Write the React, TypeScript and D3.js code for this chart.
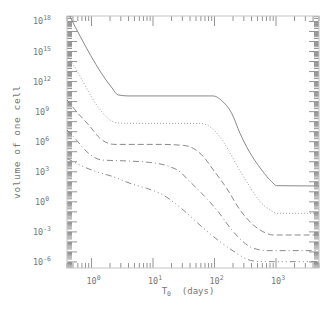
import * as d3 from "d3";
import { useEffect, useRef } from "react";

// T0 in days, volume of one cell
const tSolid = [0.44, 2.16, 2.7, 3.93, 95, 131, 190, 260, 355, 586, 853, 1030, 5000];
const vSolid = [3.5e18, 2.3e11, 4.7e10, 3.7e10, 3.7e10, 1.26e10, 6.9e8, 6.9e6, 1.5e5, 1.5e3, 100, 41, 38];

const tDotted = [0.4, 0.51, 1.32, 2.0, 2.57, 3.74, 58, 84.5, 115, 168, 260, 378, 550, 800, 1030, 5000];
const vDotted = [4.6e14, 4.6e13, 2.3e9, 1.5e8, 7.9e7, 6.9e7, 6.6e7, 3.2e7, 4.7e6, 1.5e5, 1.2e3, 32, 1.05, 0.155, 0.072, 0.072];

const tDashed = [0.4, 0.54, 0.95, 1.37, 1.88, 2.41, 13, 31, 45, 66, 96, 158, 260, 428, 706, 895, 5000];
const vDashed = [1.5e10, 1.5e9, 3.2e7, 2.2e6, 6.9e5, 5.4e5, 5.4e5, 4.3e5, 2.2e5, 3.2e4, 1.5e3, 22, 0.155, 4.9e-3, 7.2e-4, 4.9e-4, 4.9e-4];

const tDashDot = [0.4, 0.54, 0.785, 1.07, 1.47, 3.74, 8.9, 18.9, 27.5, 37.5, 62, 109, 202, 378, 550, 706, 5000];
const vDashDot = [1.5e7, 2.2e6, 1.5e5, 3.2e4, 1.5e4, 1.2e4, 8.5e3, 3.2e3, 1.0e3, 150, 7.1, 0.155, 1.05e-3, 3.3e-5, 1.6e-5, 1.35e-5, 1.35e-5];

const tDash3Dot = [0.4, 0.51, 0.74, 1.22, 2.26, 4.23, 7.9, 13, 31, 62, 123, 230, 334, 428, 615, 5000];
const vDash3Dot = [2.1e4, 1.0e4, 3.2e3, 1.0e3, 320, 71, 22, 7.1, 0.155, 3.3e-3, 1.05e-4, 7.4e-6, 1.9e-6, 1.26e-6, 1.07e-6, 1.07e-6];

const xDomain = [0.4, 5000];
const yDomain = [2.5e-7, 3.5e18];
const xLabelExp = [0, 1, 2, 3];
const yLabelExp = [18, 15, 12, 9, 6, 3, 0, -3, -6];

const series = [
  { t: tSolid, v: vSolid, dash: null, color: "#8a8a8a" },
  { t: tDotted, v: vDotted, dash: "1,2", color: "#a0a0a0" },
  { t: tDashed, v: vDashed, dash: "6,3", color: "#8a8a8a" },
  { t: tDashDot, v: vDashDot, dash: "6,3,1,3", color: "#8a8a8a" },
  { t: tDash3Dot, v: vDash3Dot, dash: "6,3,1,3,1,3,1,3", color: "#8a8a8a" },
];

const font = "'DejaVu Sans Mono', monospace";

export default function App() {
  const svgRef = useRef<SVGSVGElement>(null);

  useEffect(() => {
    const svg = d3.select(svgRef.current);
    svg.selectAll("*").remove();

    const left = 67, right = 319, top = 16, bottom = 268;
    const x = d3.scaleLog().domain(xDomain).range([left, right]);
    const y = d3.scaleLog().domain(yDomain).range([bottom, top]);

    svg.append("defs").append("clipPath").attr("id", "plotArea")
      .append("rect").attr("x", left).attr("y", top)
      .attr("width", right - left).attr("height", bottom - top);

    // tick values: decades (major) and 2..9 (minor)
    const ticksFor = (dom: number[]) => {
      const major: number[] = [], minor: number[] = [];
      const lo = Math.floor(Math.log10(dom[0])), hi = Math.ceil(Math.log10(dom[1]));
      for (let e = lo; e <= hi; e++) {
        const base = Math.pow(10, e);
        if (base >= dom[0] && base <= dom[1]) major.push(base);
        for (let k = 2; k <= 9; k++) {
          const v = k * base;
          if (v >= dom[0] && v <= dom[1]) minor.push(v);
        }
      }
      return { major, minor };
    };
    const xt = ticksFor(xDomain);
    const yt = ticksFor(yDomain);

    const tickG = svg.append("g").attr("stroke", "#949494").attr("stroke-width", 1);
    const drawY = (vals: number[], len: number) => {
      vals.forEach(v => {
        tickG.append("line").attr("x1", left).attr("x2", left + len).attr("y1", y(v)).attr("y2", y(v));
        tickG.append("line").attr("x1", right - len).attr("x2", right).attr("y1", y(v)).attr("y2", y(v));
      });
    };
    const drawX = (vals: number[], len: number) => {
      vals.forEach(v => {
        tickG.append("line").attr("y1", bottom).attr("y2", bottom - len).attr("x1", x(v)).attr("x2", x(v));
        tickG.append("line").attr("y1", top).attr("y2", top + len).attr("x1", x(v)).attr("x2", x(v));
      });
    };
    drawY(yt.major, 10);
    drawY(yt.minor, 5);
    drawX(xt.major, 10);
    drawX(xt.minor, 5);

    // frame
    svg.append("rect").attr("x", left).attr("y", top)
      .attr("width", right - left).attr("height", bottom - top)
      .attr("fill", "none").attr("stroke", "#c4c4c4").attr("stroke-width", 1);

    // curves
    const line = d3.line<[number, number]>()
      .x(d => x(d[0])).y(d => y(d[1]))
      .curve(d3.curveMonotoneX);
    const curves = svg.append("g").attr("clip-path", "url(#plotArea)");
    series.forEach(s => {
      const pts = s.t.map((t, i) => [t, s.v[i]] as [number, number]);
      curves.append("path")
        .attr("d", line(pts))
        .attr("fill", "none")
        .attr("stroke", s.color)
        .attr("stroke-width", 1)
        .attr("stroke-dasharray", s.dash);
    });

    // tick labels
    const labels = svg.append("g").attr("font-family", font).attr("fill", "#777");
    yLabelExp.forEach(e => {
      const t = labels.append("text").attr("x", 42).attr("y", y(Math.pow(10, e)) + 3)
        .attr("text-anchor", "middle").attr("font-size", 8.5);
      t.append("tspan").text("10");
      t.append("tspan").attr("dy", -4).attr("font-size", 6.5).text(String(e));
    });
    xLabelExp.forEach(e => {
      const t = labels.append("text").attr("x", x(Math.pow(10, e)) + 2).attr("y", 284)
        .attr("text-anchor", "middle").attr("font-size", 8.5);
      t.append("tspan").text("10");
      t.append("tspan").attr("dy", -4).attr("font-size", 6.5).text(String(e));
    });

    // axis titles
    const xTitle = labels.append("text").attr("x", 188).attr("y", 294)
      .attr("text-anchor", "middle").attr("font-size", 9);
    xTitle.append("tspan").text("T");
    xTitle.append("tspan").attr("dy", 2).attr("font-size", 6.5).text("0");
    xTitle.append("tspan").attr("dy", -2).text("\u00a0\u00a0(days)");

    labels.append("text")
      .attr("transform", "translate(20,142) rotate(-90)")
      .attr("text-anchor", "middle").attr("font-size", 9.5)
      .attr("letter-spacing", 0.6)
      .text("volume of one cell");
  }, []);

  return (
    <svg ref={svgRef} width={320} height={320}
      style={{ position: "absolute", left: 0, top: 0, background: "#fff" }} />
  );
}
